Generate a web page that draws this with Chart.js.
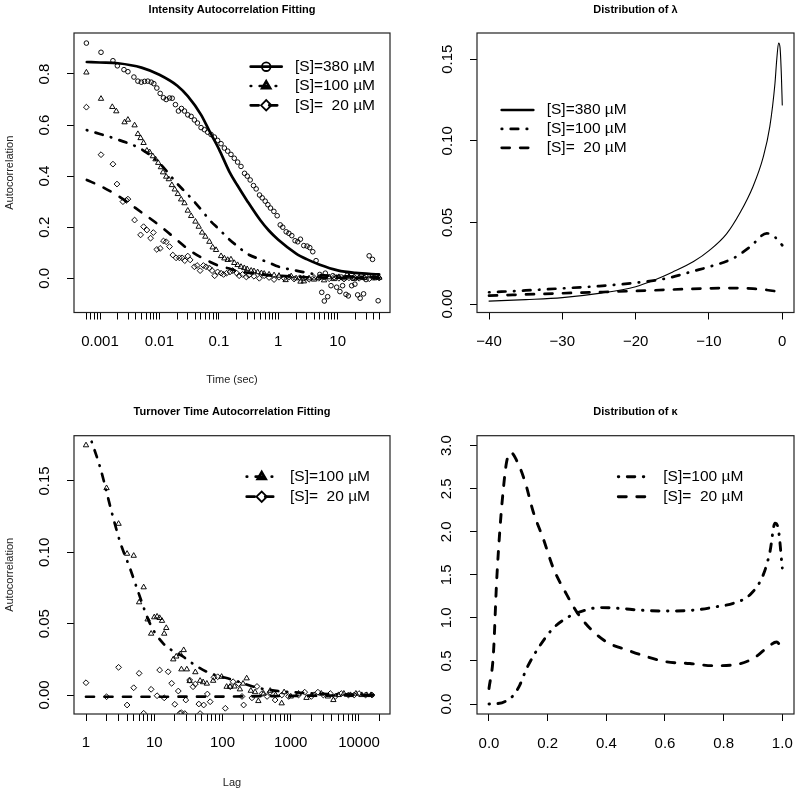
<!DOCTYPE html>
<html><head><meta charset="utf-8">
<script src="https://cdn.jsdelivr.net/npm/chart.js@4.4.1/dist/chart.umd.min.js"></script>
<style>
html,body{margin:0;padding:0;background:#fff;}
#wrap{position:relative;width:800px;height:795px;background:#fff;}
canvas{position:absolute;display:block;}
</style></head><body>
<div id="wrap">
<canvas id="c1" width="400" height="397" style="left:0;top:0"></canvas>
<canvas id="c2" width="400" height="397" style="left:400px;top:0"></canvas>
<canvas id="c3" width="400" height="398" style="left:0;top:397px"></canvas>
<canvas id="c4" width="400" height="398" style="left:400px;top:397px"></canvas>
</div>
<script>
// ================= DATA =================
const legend3 = ['[S]=380 \u00b5M', '[S]=100 \u00b5M', '[S]=  20 \u00b5M'];

// ---- Panel 1: Intensity autocorrelation (lag in sec) ----
const p1Lag380 = [0.00059,0.00104,0.00165,0.00196,0.00253,0.00295,0.00372,0.00434,0.00495,0.00562,0.00638,0.00728,0.00805,0.00904,0.0103,0.0117,0.0130,0.0148,0.0164,0.0186,0.0209,0.0235,0.0264,0.0300,0.0342,0.0388,0.0436,0.0502,0.0571,0.0649,0.0740,0.0840,0.0954,0.109,0.124,0.141,0.160,0.182,0.207,0.236,0.271,0.301,0.337,0.383,0.425,0.484,0.537,0.603,0.669,0.740,0.844,0.959,1.08,1.19,1.36,1.51,1.69,1.92,2.13,2.36,2.69,3.06,3.39,3.81,4.33,5.0,5.4,5.96,6.2,6.79,7.72,8.3,9.62,10.9,11.5,12.1,13.8,14.5,15.1,17.2,18.0,19.5,21.7,23.9,25.0,27.3,30.0,33.9,38.6,43.0,48.0];
const p1Ac380 = [0.921,0.885,0.852,0.832,0.817,0.809,0.788,0.772,0.768,0.771,0.772,0.768,0.762,0.745,0.724,0.707,0.700,0.706,0.705,0.680,0.655,0.665,0.655,0.640,0.634,0.620,0.608,0.590,0.582,0.572,0.563,0.553,0.540,0.527,0.510,0.498,0.485,0.470,0.455,0.438,0.411,0.400,0.385,0.363,0.350,0.326,0.315,0.302,0.288,0.275,0.262,0.245,0.209,0.200,0.182,0.176,0.167,0.147,0.143,0.153,0.128,0.126,0.120,0.104,0.069,0.015,-0.055,-0.089,0.020,-0.072,-0.029,0.010,-0.035,-0.052,0.005,-0.029,-0.063,0.012,-0.069,-0.029,0.000,-0.023,-0.065,-0.078,0.010,-0.061,-0.005,0.088,0.074,0.008,-0.088];
const p1Lag100 = [0.00059,0.00104,0.00161,0.00188,0.00259,0.00295,0.00382,0.00434,0.00482,0.00541,0.00615,0.00683,0.00775,0.0086,0.00955,0.0106,0.0115,0.0130,0.0144,0.0162,0.0181,0.0204,0.0232,0.0264,0.0300,0.0342,0.0404,0.0458,0.0523,0.0593,0.0693,0.0787,0.0897,0.109,0.124,0.141,0.160,0.182,0.207,0.236,0.268,0.30,0.35,0.39,0.45,0.52,0.58,0.70,0.85,1.03,1.33,1.65,2.0,2.37,2.7,3.3,4.0,4.8,5.9,7.2,8.7,10.5,12.8,15.5,19,23,28,34,41,50];
const p1Ac100 = [0.806,0.703,0.671,0.654,0.611,0.621,0.599,0.565,0.549,0.530,0.500,0.494,0.478,0.466,0.452,0.435,0.415,0.398,0.388,0.365,0.348,0.330,0.309,0.294,0.265,0.244,0.222,0.202,0.179,0.163,0.143,0.121,0.111,0.087,0.078,0.072,0.074,0.060,0.052,0.045,0.040,0.036,0.030,0.028,0.024,0.020,0.018,0.015,0.012,0.010,-0.007,0.008,0.000,-0.013,-0.012,0.000,-0.005,0.002,-0.008,0.004,-0.003,0.005,0.000,0.006,-0.002,0.004,0.001,0.008,0.000,0.002];
const p1Lag20 = [0.00059,0.00104,0.00165,0.00193,0.00243,0.00277,0.00295,0.00382,0.00482,0.00541,0.00615,0.0071,0.0079,0.00904,0.0103,0.0117,0.0130,0.0148,0.0168,0.0191,0.0217,0.0241,0.0267,0.0300,0.0329,0.0388,0.0431,0.0484,0.055,0.061,0.0693,0.0769,0.0851,0.0954,0.109,0.120,0.135,0.154,0.171,0.20,0.22,0.25,0.29,0.32,0.39,0.48,0.58,0.70,0.85,1.03,1.26,1.52,1.85,2.3,2.7,3.3,4.0,4.8,5.9,7.2,8.7,10.5,12.8,15.5,19,23,28,34,41,50];
const p1Ac20 = [0.670,0.484,0.447,0.369,0.300,0.305,0.310,0.228,0.170,0.202,0.189,0.157,0.179,0.113,0.117,0.146,0.143,0.124,0.091,0.080,0.080,0.080,0.069,0.087,0.072,0.045,0.050,0.030,0.050,0.045,0.040,0.030,0.010,0.025,0.020,0.015,0.020,0.025,0.030,0.020,0.010,0.015,0.005,0.012,0.008,0.000,0.010,0.003,-0.005,0.004,0.000,0.005,-0.003,0.002,0.000,-0.004,0.003,0.000,0.005,-0.002,0.004,0.000,-0.003,0.002,0.005,0.000,0.003,-0.002,0.004,0.001];
const p1FitLag = [0.0006,0.001,0.002,0.005,0.01,0.02,0.03,0.05,0.07,0.1,0.15,0.2,0.3,0.5,0.7,1,2,3,5,10,20,50];
const p1Fit380 = [0.847,0.845,0.842,0.825,0.797,0.754,0.713,0.641,0.575,0.507,0.418,0.368,0.303,0.227,0.186,0.151,0.097,0.075,0.053,0.031,0.021,0.015];
const p1Fit100 = [0.580,0.565,0.543,0.505,0.451,0.370,0.328,0.270,0.228,0.193,0.152,0.128,0.096,0.074,0.061,0.046,0.030,0.022,0.013,0.009,0.006,0.004];
const p1Fit20 = [0.385,0.362,0.323,0.258,0.207,0.149,0.115,0.082,0.065,0.049,0.038,0.029,0.022,0.016,0.012,0.010,0.006,0.004,0.003,0.002,0.001,0.001];
const p1XMajor = [0.001,0.01,0.1,1,10];
const p1XLabels = ['0.001','0.01','0.1','1','10'];
const p1YTicks = [0,0.2,0.4,0.6,0.8];
const p1YLabels = ['0.0','0.2','0.4','0.6','0.8'];

// ---- Panel 2: Distribution of lambda ----
const p2Lambda380 = [-40,-35,-30,-25,-20,-17.5,-15,-12.1,-9.9,-7.6,-5.8,-4.0,-2.6,-1.7,-1.0,-0.75,-0.5,-0.3,-0.12,0];
const p2Dens380 = [0.0018,0.0027,0.0039,0.0065,0.0106,0.0146,0.0195,0.026,0.033,0.043,0.0556,0.0719,0.090,0.1087,0.135,0.150,0.160,0.157,0.140,0.122];
const p2Lambda100 = [-40,-35,-30,-25,-20,-15.8,-12,-9.9,-6.7,-4.4,-2.1,-1.0,0];
const p2Dens100 = [0.0072,0.0083,0.0096,0.011,0.013,0.0157,0.0203,0.0229,0.028,0.035,0.0433,0.041,0.036];
const p2Lambda20 = [-40,-30,-20,-10,-6.7,-4,-2.1,0];
const p2Dens20 = [0.0051,0.0066,0.008,0.0096,0.0098,0.0094,0.0086,0.0072];
const p2XTicks = [-40,-30,-20,-10,0];
const p2XLabels = ['\u221240','\u221230','\u221220','\u221210','0'];
const p2YTicks = [0,0.05,0.10,0.15];
const p2YLabels = ['0.00','0.05','0.10','0.15'];

// ---- Panel 3: Turnover time autocorrelation (lag) ----
const p3Lag100 = [1,2,3,4,5,6,7,8,9,10,11,12,13,14,15,19,21,24,25,27,30,33,40,47,52,59,73,97,115,129,150,180,200,226,260,300,335,400,500,600,736,800,1000,1300,1700,2200,2800,3500,4210,5000,6000,7500,9000,11000,13000,15000];
const p3Ac100 = [0.175,0.145,0.120,0.099,0.0976,0.065,0.0755,0.053,0.043,0.0545,0.055,0.054,0.052,0.043,0.047,0.025,0.027,0.0287,0.018,0.0315,0.018,0.0098,0.016,0.010,0.009,0.008,0.010,0.0128,0.0058,0.0058,0.006,0.004,0.008,0.0117,0.003,0.002,-0.0042,0.001,0.003,0.000,-0.0058,0.002,-0.001,0.001,-0.002,0.000,0.001,-0.001,-0.0035,0.000,0.001,0.000,0.001,0.000,0.000,0.000];
const p3Lag20 = [1,2,3,4,5,6,7,9,11,12,14,16,18,20,22.5,23.8,25,28,29,33,37,40,45,47,53,60,66,75,85,110,130,143,172,193,204,270,320,380,450,500,590,740,930,1300,1600,2000,2500,3000,3800,4500,5500,7000,8500,10000,12500,15500];
const p3Ac20 = [0.0086,-0.0012,0.0194,-0.007,0.0051,0.0152,-0.0128,0.004,-0.0005,0.0175,-0.002,0.0163,0.0082,-0.0065,0.0028,-0.0128,-0.0124,-0.013,-0.0035,0.0105,0.0058,0.0077,-0.0063,-0.013,-0.007,0.0007,-0.0047,0.0124,0.0128,-0.0093,0.0058,0.0093,0.008,-0.001,-0.007,-0.002,0.006,0.001,-0.001,0.002,-0.0035,0.000,-0.001,0.000,0.002,-0.001,0.002,0.000,0.001,-0.001,0.001,0.000,0.000,0.001,0.000,0.000];
const p3FitLag100 = [1.21,1.6,2.51,3.22,4.41,5.84,8.67,13.6,26.7,33.4,58.7,144,354,1367,5000,16000];
const p3Fit100 = [0.1775,0.160,0.124,0.106,0.0888,0.072,0.050,0.036,0.0268,0.0233,0.0163,0.0105,0.0047,0.0016,0.0005,0.0002];
const p3FitLag20 = [1,10,100,1000,16000];
const p3Fit20 = [-0.0012,-0.0012,-0.0011,-0.0006,-0.0001];
const p3XMajor = [1,10,100,1000,10000];
const p3XLabels = ['1','10','100','1000','10000'];
const p3YTicks = [0,0.05,0.10,0.15];
const p3YLabels = ['0.00','0.05','0.10','0.15'];

// ---- Panel 4: Distribution of kappa ----
const p4Kappa100 = [0,0.03,0.055,0.083,0.105,0.128,0.174,0.219,0.265,0.31,0.378,0.447,0.515,0.606,0.697,0.776,0.833,0.89,0.935,0.958,0.975,0.986,1.0];
const p4Dens100 = [0,0.005,0.03,0.10,0.22,0.41,0.68,0.88,1.00,1.07,1.12,1.11,1.09,1.08,1.09,1.13,1.17,1.27,1.50,1.77,2.10,2.04,1.58];
const p4Kappa20 = [0,0.0148,0.026,0.0375,0.049,0.06,0.075,0.094,0.123,0.151,0.185,0.219,0.265,0.299,0.344,0.401,0.469,0.538,0.606,0.685,0.765,0.833,0.901,0.947,0.981,0.992];
const p4Dens20 = [0.18,0.57,1.42,2.04,2.50,2.81,2.92,2.83,2.58,2.23,1.92,1.58,1.27,1.07,0.88,0.72,0.63,0.55,0.49,0.47,0.445,0.453,0.53,0.65,0.72,0.685];
const p4XTicks = [0,0.2,0.4,0.6,0.8,1.0];
const p4XLabels = ['0.0','0.2','0.4','0.6','0.8','1.0'];
const p4YTicks = [0,0.5,1.0,1.5,2.0,2.5,3.0];
const p4YLabels = ['0.0','0.5','1.0','1.5','2.0','2.5','3.0'];

// ================= HELPERS =================
const FONT = "'Liberation Sans', Arial, Helvetica, sans-serif";
const DASH = [8, 10.5];
const DOTDASH = [0.5, 8.5, 7.5, 8.5];
const zip = (xs, ys) => xs.map((x, i) => ({x: x, y: ys[i]}));

function logTicks(lo, hi) {
  const out = [];
  for (let k = -5; k <= 5; k++) for (let m = 1; m <= 9; m++) {
    const v = +(m * Math.pow(10, k)).toPrecision(3);
    if (v >= lo * 0.999 && v <= hi * 1.001) out.push(v);
  }
  return out;
}
function labelFor(v, vals, labels) {
  for (let i = 0; i < vals.length; i++) {
    if (Math.abs(vals[i] - v) <= 1e-9 * Math.max(1e-6, Math.abs(vals[i]))) return labels[i];
  }
  return '';
}
const mctx = document.createElement('canvas').getContext('2d');
function widest(labels, size) {
  mctx.font = size + 'px ' + FONT;
  return Math.max.apply(null, labels.map(l => mctx.measureText(l).width));
}
function lineDs(label, xs, ys, dash, width) {
  return {label: label, data: zip(xs, ys), showLine: true, borderColor: '#000', backgroundColor: 'rgba(0,0,0,0)',
    borderWidth: width, borderDash: dash, borderCapStyle: 'round', borderJoinStyle: 'round',
    pointRadius: 0, pointHoverRadius: 0, pointHitRadius: 0, cubicInterpolationMode: 'monotone', fill: false};
}
function pointDs(label, xs, ys, style, r) {
  return {label: label, data: zip(xs, ys), showLine: false, pointStyle: style, pointRadius: r, pointHoverRadius: r,
    pointBorderWidth: 0.95, pointBorderColor: '#000', pointBackgroundColor: 'rgba(0,0,0,0)',
    borderColor: '#000', backgroundColor: 'rgba(0,0,0,0)'};
}
function marker(ctx, style, x, y, r) {
  ctx.beginPath();
  if (style === 'circle') {
    ctx.arc(x, y, r, 0, Math.PI * 2);
  } else if (style === 'triangle') {
    for (let k = 0; k < 3; k++) {
      const a = k * 2 * Math.PI / 3;
      const px = x + Math.sin(a) * r, py = y - Math.cos(a) * r;
      if (k) ctx.lineTo(px, py); else ctx.moveTo(px, py);
    }
    ctx.closePath();
  } else {
    ctx.moveTo(x - r, y); ctx.lineTo(x, y - r); ctx.lineTo(x + r, y); ctx.lineTo(x, y + r); ctx.closePath();
  }
  ctx.stroke();
}
const framePlugin = {
  id: 'rframe',
  afterDraw(chart, args, opts) {
    const ctx = chart.ctx, a = chart.chartArea;
    ctx.save();
    ctx.setLineDash([]);
    ctx.strokeStyle = '#222';
    ctx.lineWidth = 1.2;
    ctx.strokeRect(a.left, a.top, a.right - a.left, a.bottom - a.top);
    const L = opts.legend;
    if (L) {
      L.items.forEach((it, i) => {
        const y = L.y0 + i * L.dy;
        const ds = chart.data.datasets[it.line];
        ctx.beginPath();
        ctx.setLineDash(ds.borderDash || []);
        ctx.lineDashOffset = 0;
        ctx.lineCap = 'round';
        ctx.lineWidth = it.lw || ds.borderWidth;
        ctx.strokeStyle = '#000';
        ctx.moveTo(L.x0, y); ctx.lineTo(L.x1, y); ctx.stroke();
        ctx.setLineDash([]);
        if (it.point != null) {
          const pd = chart.data.datasets[it.point];
          ctx.lineWidth = it.mw || 1.8;
          marker(ctx, pd.pointStyle, (L.x0 + L.x1) / 2, y, it.r);
        }
        ctx.fillStyle = '#000';
        ctx.font = '15.5px ' + FONT;
        ctx.textAlign = 'left';
        ctx.textBaseline = 'middle';
        ctx.fillText(ds.label, L.xt, y);
      });
    }
    ctx.restore();
  }
};
function gridOpts() {
  return {drawOnChartArea: false, drawTicks: true, tickLength: 7, tickWidth: 1, tickColor: '#000', color: '#000', lineWidth: 1};
}
function axisX(o) {
  return {
    type: o.type || 'linear', position: 'bottom', min: o.min, max: o.max,
    afterBuildTicks: s => { s.ticks = o.ticks.map(v => ({value: v})); },
    afterFit: s => { s.height = o.height; s.paddingLeft = 0; s.paddingRight = 0; },
    ticks: {autoSkip: false, maxRotation: 0, minRotation: 0, padding: o.pad, color: '#000',
      font: {family: FONT, size: 15}, callback: v => labelFor(v, o.major, o.labels)},
    grid: gridOpts(), border: {display: false},
    title: o.title ? {display: true, text: o.title, color: '#222', font: {family: FONT, size: 11},
      padding: {top: 0, bottom: o.titlePad}} : {display: false}
  };
}
function axisY(o) {
  const w = widest(o.labels, 15);
  return {
    type: 'linear', position: 'left', min: o.min, max: o.max,
    afterBuildTicks: s => { s.ticks = o.ticks.map(v => ({value: v})); },
    afterFit: s => { s.width = o.width; s.paddingTop = 0; s.paddingBottom = 0; },
    ticks: {autoSkip: false, minRotation: 90, maxRotation: 90, crossAlign: 'center',
      padding: o.dist - 7 - w / 2, color: '#000', font: {family: FONT, size: 15},
      callback: v => labelFor(v, o.ticks, o.labels)},
    grid: gridOpts(), border: {display: false},
    title: o.title ? {display: true, text: o.title, color: '#222', font: {family: FONT, size: 11},
      padding: {top: 3.4, bottom: 0}} : {display: false}
  };
}
function makeChart(id, o) {
  return new Chart(document.getElementById(id), {
    type: 'scatter',
    data: {datasets: o.datasets},
    options: {
      responsive: false, animation: false, events: [],
      layout: {padding: {top: 0, left: 0, bottom: 0, right: o.padRight}},
      plugins: {
        legend: {display: false}, tooltip: {enabled: false},
        title: {display: true, text: o.title, fullSize: false, color: '#000',
          font: {family: FONT, size: 11, weight: 'bold'}, padding: {top: o.titleTop, bottom: o.titleBottom}},
        rframe: {legend: o.legend}
      },
      scales: {x: o.x, y: o.y}
    },
    plugins: [framePlugin]
  });
}

// ================= PANEL 1 =================
makeChart('c1', {
  title: 'Intensity Autocorrelation Fitting', titleTop: 3.4, titleBottom: 16.4, padRight: 10,
  datasets: [
    pointDs(legend3[0], p1Lag380, p1Ac380, 'circle', 2.3),
    pointDs(legend3[1], p1Lag100, p1Ac100, 'triangle', 3.1),
    pointDs(legend3[2], p1Lag20, p1Ac20, 'rectRot', 2.9),
    lineDs(legend3[0], p1FitLag, p1Fit380, [], 2.7),
    lineDs(legend3[1], p1FitLag, p1Fit100, DOTDASH, 2.7),
    lineDs(legend3[2], p1FitLag, p1Fit20, DASH, 2.7)
  ],
  legend: {x0: 250.7, x1: 281.7, xt: 295, y0: 66.7, dy: 19.3,
    items: [{line: 3, point: 0, r: 4.3}, {line: 4, point: 1, r: 4.6, mw: 2.6}, {line: 5, point: 2, r: 5.2}]},
  x: axisX({type: 'logarithmic', min: 0.000365, max: 76, ticks: logTicks(0.0006, 50), major: p1XMajor,
    labels: p1XLabels, height: 84.5, pad: 13.2, title: 'Time (sec)', titlePad: 10.4}),
  y: axisY({min: -0.134, max: 0.9605, ticks: p1YTicks, labels: p1YLabels, width: 74, dist: 29, title: 'Autocorrelation'})
});

// ================= PANEL 2 =================
makeChart('c2', {
  title: 'Distribution of \u03bb', titleTop: 3.4, titleBottom: 16.4, padRight: 6,
  datasets: [
    lineDs(legend3[0], p2Lambda380, p2Dens380, [], 1.1),
    lineDs(legend3[1], p2Lambda100, p2Dens100, DOTDASH, 2.7),
    lineDs(legend3[2], p2Lambda20, p2Dens20, DASH, 2.7)
  ],
  legend: {x0: 101.7, x1: 133.3, xt: 146.7, y0: 110, dy: 18.9,
    items: [{line: 0, lw: 2.7}, {line: 1}, {line: 2}]},
  x: axisX({min: -41.64, max: 1.6, ticks: p2XTicks, major: p2XTicks, labels: p2XLabels, height: 84.5, pad: 13.2}),
  y: axisY({min: -0.0052, max: 0.1661, ticks: p2YTicks, labels: p2YLabels, width: 77, dist: 29})
});

// ================= PANEL 3 =================
makeChart('c3', {
  title: 'Turnover Time Autocorrelation Fitting', titleTop: 8.7, titleBottom: 16.8, padRight: 10,
  datasets: [
    pointDs(legend3[1], p3Lag100, p3Ac100, 'triangle', 3.1),
    pointDs(legend3[2], p3Lag20, p3Ac20, 'rectRot', 2.9),
    lineDs(legend3[1], p3FitLag100, p3Fit100, DOTDASH, 2.7),
    lineDs(legend3[2], p3FitLag20, p3Fit20, DASH, 2.7)
  ],
  legend: {x0: 246.7, x1: 276.7, xt: 290, y0: 79.7, dy: 20,
    items: [{line: 2, point: 0, r: 4.6, mw: 2.6}, {line: 3, point: 1, r: 5.2}]},
  x: axisX({type: 'logarithmic', min: 0.667, max: 28460, ticks: logTicks(1, 20000), major: p3XMajor,
    labels: p3XLabels, height: 81, pad: 13.3, title: 'Lag', titlePad: 5.1}),
  y: axisY({min: -0.0133, max: 0.1817, ticks: p3YTicks, labels: p3YLabels, width: 74, dist: 29, title: 'Autocorrelation'})
});

// ================= PANEL 4 =================
makeChart('c4', {
  title: 'Distribution of \u03ba', titleTop: 8.7, titleBottom: 16.8, padRight: 6,
  datasets: [
    lineDs(legend3[1], p4Kappa100, p4Dens100, DOTDASH, 2.9),
    lineDs(legend3[2], p4Kappa20, p4Dens20, DASH, 2.9)
  ],
  legend: {x0: 218.3, x1: 248.3, xt: 263.3, y0: 79.7, dy: 20,
    items: [{line: 0}, {line: 1}]},
  x: axisX({min: -0.0409, max: 1.0399, ticks: p4XTicks, major: p4XTicks, labels: p4XLabels, height: 81, pad: 14}),
  y: axisY({min: -0.116, max: 3.116, ticks: p4YTicks, labels: p4YLabels, width: 77, dist: 30})
});
</script>
</body></html>
